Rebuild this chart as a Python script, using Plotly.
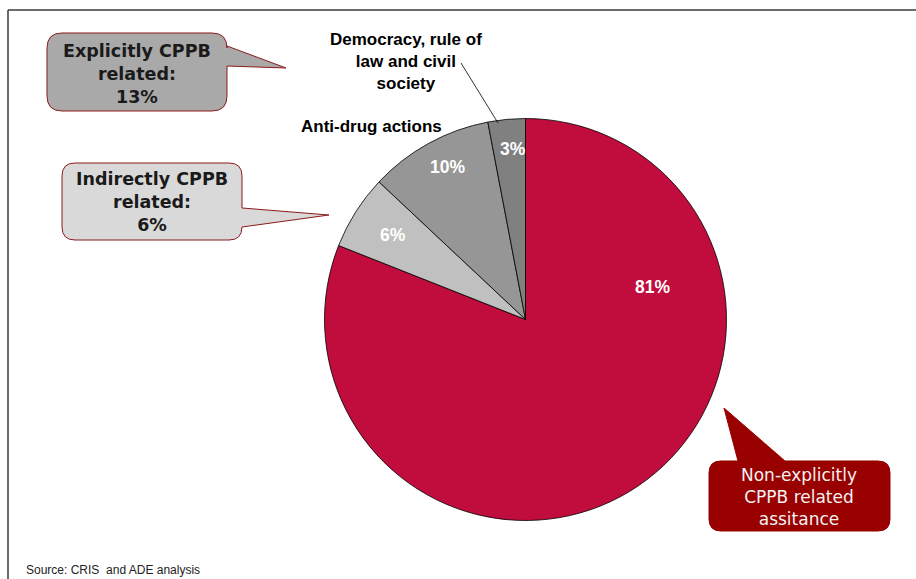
import plotly.graph_objects as go

# --- data -------------------------------------------------------------
categories = [
    "Non-explicitly CPPB related assitance",
    "Indirectly CPPB related",
    "Anti-drug actions",
    "Democracy, rule of law and civil society",
]
shares = [81, 6, 10, 3]
slice_colors = ["#C10D3D", "#C0C0C0", "#969696", "#808080"]

explicit_share = shares[2] + shares[3]   # 13
indirect_share = shares[1]               # 6

W, H = 916, 579


def px(x):
    return x / W


def py(y):
    return 1 - y / H


def callout_path(x0, y0, x1, y1, r, side, p_a, tip, p_b):
    """Rounded rectangle (pixel coords) with a pointer on one side."""

    def P(x, y):
        return f"{px(x):.5f},{py(y):.5f}"

    d = f"M {P(x0 + r, y0)}"
    if side == "top":
        d += f" L {P(p_a, y0)} L {P(*tip)} L {P(p_b, y0)}"
    d += f" L {P(x1 - r, y0)} Q {P(x1, y0)} {P(x1, y0 + r)}"
    if side == "right":
        d += f" L {P(x1, p_a)} L {P(*tip)} L {P(x1, p_b)}"
    d += f" L {P(x1, y1 - r)} Q {P(x1, y1)} {P(x1 - r, y1)}"
    d += f" L {P(x0 + r, y1)} Q {P(x0, y1)} {P(x0, y1 - r)}"
    d += f" L {P(x0, y0 + r)} Q {P(x0, y0)} {P(x0 + r, y0)} Z"
    return d


fig = go.Figure()

cx, cy, rad = 525.5, 319.5, 201
fig.add_trace(go.Pie(
    labels=categories,
    values=shares,
    sort=False,
    direction="clockwise",
    rotation=0,
    marker=dict(colors=slice_colors, line=dict(color="#000000", width=0.8)),
    textinfo="none",
    showlegend=False,
    domain=dict(x=[px(cx - rad), px(cx + rad)], y=[py(cy + rad), py(cy - rad)]),
))

shapes = []
# frame lines
shapes.append(dict(type="line", xref="paper", yref="paper",
                   x0=px(8), y0=py(10), x1=1, y1=py(10),
                   line=dict(color="#3a3a3a", width=1.5)))
shapes.append(dict(type="line", xref="paper", yref="paper",
                   x0=px(8), y0=py(10), x1=px(8), y1=0,
                   line=dict(color="#3a3a3a", width=1.5)))
# callout boxes
shapes.append(dict(type="path", xref="paper", yref="paper",
                   path=callout_path(47, 33, 227, 111, 15, "right", 46, (286, 68), 66),
                   fillcolor="#A9A9A9", line=dict(color="#8B1A1A", width=1)))
shapes.append(dict(type="path", xref="paper", yref="paper",
                   path=callout_path(62, 163, 242, 240, 13, "right", 208, (329, 215), 227),
                   fillcolor="#D9D9D9", line=dict(color="#8B1A1A", width=1)))
shapes.append(dict(type="path", xref="paper", yref="paper",
                   path=callout_path(709, 461, 890, 531, 12, "top", 738, (724, 408), 785),
                   fillcolor="#990000", line=dict(color="#990000", width=1)))
# leader line for the small slice
shapes.append(dict(type="line", xref="paper", yref="paper",
                   x0=px(461), y0=py(63), x1=px(498), y1=py(123),
                   line=dict(color="#000000", width=0.8)))

annotations = []


def note(x, y, text, size, color, family, xanchor="center", yanchor="middle"):
    annotations.append(dict(
        x=px(x), y=py(y), xref="paper", yref="paper", text=text,
        showarrow=False, xanchor=xanchor, yanchor=yanchor, align="center",
        font=dict(size=size, color=color, family=family),
    ))


# slice percentages
pct_pos = [(652, 287), (393, 235), (447, 167), (513, 149)]
for v, (x, y) in zip(shares, pct_pos):
    note(x, y, f"<b>{v}%</b>", 17.5, "#FFFFFF", "Liberation Sans, Arial")

# category labels
note(406, 61.5, "<b>Democracy, rule of<br>law and civil<br>society</b>", 17,
     "#000000", "Liberation Sans, Arial")
note(371.5, 127, "<b>Anti-drug actions</b>", 17, "#000000", "Liberation Sans, Arial")

# callout texts
note(137, 73.5, f"<b>Explicitly CPPB<br>related:<br>{explicit_share}%</b>", 17.5,
     "#1A1A1A", "DejaVu Sans")
note(152, 202, f"<b>Indirectly CPPB<br>related:<br>{indirect_share}%</b>", 17.5,
     "#1A1A1A", "DejaVu Sans")
note(799, 497, "Non-explicitly<br>CPPB related<br>assitance", 17,
     "#F2F2F2", "DejaVu Sans")

# source line
note(24, 570, "Source: CRIS  and ADE analysis", 12, "#222222",
     "Liberation Sans, Arial", xanchor="left")

fig.update_layout(
    width=W, height=H,
    margin=dict(l=0, r=0, t=0, b=0),
    paper_bgcolor="#FFFFFF",
    plot_bgcolor="#FFFFFF",
    shapes=shapes,
    annotations=annotations,
)

fig.write_html("out.html")
